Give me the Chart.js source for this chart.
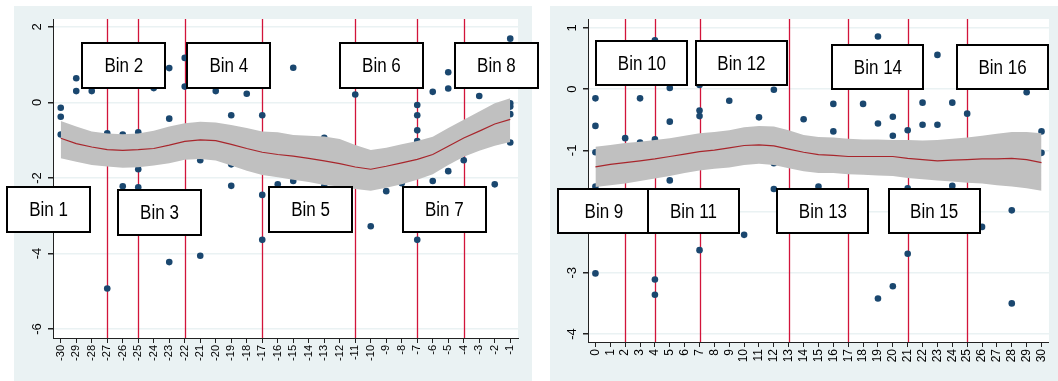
<!DOCTYPE html>
<html>
<head>
<meta charset="utf-8">
<script src="https://cdn.jsdelivr.net/npm/chart.js@4.4.0/dist/chart.umd.min.js"></script>
<style>
  html, body { margin: 0; padding: 0; background: #fff; }
  body { width: 1058px; height: 381px; position: relative; overflow: hidden; }
  .bg { position: absolute; background: #eaf2f3; }
  .wrap { position: absolute; top: 0; height: 381px; }
</style>
</head>
<body>
<div class="bg" style="left:14px;top:6px;width:518px;height:375px"></div>
<div class="bg" style="left:550px;top:6px;width:508px;height:375px"></div>
<div class="wrap" style="left:0;width:540px"><canvas id="left" width="540" height="381"></canvas></div>
<div class="wrap" style="left:545px;width:513px"><canvas id="right" width="513" height="381"></canvas></div>

<script>
// ---- left panel (days -30 .. -1) ----
const leftXTicks = [-30, -29, -28, -27, -26, -25, -24, -23, -22, -21, -20, -19, -18, -17, -16, -15, -14, -13, -12, -11, -10, -9, -8, -7, -6, -5, -4, -3, -2, -1];
const leftYTicks = [2, 0, -2, -4, -6];
const leftCutoffs = [-27, -25, -22, -17, -11, -7, -4];
const leftBins = ['Bin 1', 'Bin 2', 'Bin 3', 'Bin 4', 'Bin 5', 'Bin 6', 'Bin 7', 'Bin 8'];

const leftPtsX = [-30, -30, -30, -29, -29, -28, -27, -27, -26, -26, -25, -25, -25, -24, -23, -23, -23, -22, -22, -21, -21, -20,
  -19, -19, -19, -18, -17, -17, -17, -16, -15, -15, -13, -13, -11, -10, -9, -8, -7, -7, -7, -7, -7, -6, -6, -5, -5, -5,
  -4, -3, -2, -1, -1, -1, -1, -1];
const leftPtsY = [-0.14, -0.38, -0.85, 0.64, 0.30, 0.30, -0.82, -4.93, -0.85, -2.22, -0.79, -1.77, -2.25, 0.38, 0.91, -0.43, -4.23, 1.18, 0.42, -1.53, -4.06, 0.30,
  -0.34, -1.64, -2.21, 0.23, -0.34, -2.45, -3.64, -2.17, 0.92, -2.08, -0.94, -2.22, 0.21, -3.28, -2.35, -2.14, -0.07, -0.34, -0.74, -1.02, -3.64, 0.28, -2.08, 0.80, 0.37, -1.82,
  -1.53, 0.17, -2.17, 1.69, -0.02, -0.11, -0.31, -1.06];

const leftFit = [-0.95, -1.09, -1.18, -1.25, -1.27, -1.25, -1.22, -1.13, -1.03, -0.99, -1.01, -1.11, -1.22, -1.32, -1.38,
  -1.42, -1.48, -1.55, -1.62, -1.71, -1.77, -1.69, -1.60, -1.51, -1.38, -1.16, -0.94, -0.76, -0.57, -0.45];
const leftUpper = [-0.49, -0.64, -0.77, -0.82, -0.84, -0.82, -0.75, -0.64, -0.55, -0.51, -0.53, -0.60, -0.68, -0.77, -0.79,
  -0.86, -0.88, -0.90, -0.97, -1.13, -1.26, -1.20, -1.11, -1.02, -0.91, -0.68, -0.46, -0.24, -0.02, 0.11];
const leftLower = [-1.48, -1.57, -1.66, -1.70, -1.73, -1.72, -1.67, -1.61, -1.52, -1.50, -1.54, -1.67, -1.81, -1.92, -1.98,
  -2.05, -2.11, -2.19, -2.23, -2.29, -2.34, -2.26, -2.17, -2.05, -1.90, -1.66, -1.44, -1.28, -1.15, -1.05];

// ---- right panel (days 0 .. 30) ----
const rightXTicks = [0, 1, 2, 3, 4, 5, 6, 7, 8, 9, 10, 11, 12, 13, 14, 15, 16, 17, 18, 19, 20, 21, 22, 23, 24, 25, 26, 27, 28, 29, 30];
const rightYTicks = [1, 0, -1, -2, -3, -4];
const rightCutoffs = [2, 4, 7, 13, 17, 21, 25];
const rightBins = ['Bin 9', 'Bin 10', 'Bin 11', 'Bin 12', 'Bin 13', 'Bin 14', 'Bin 15', 'Bin 16'];

const rightPtsX = [0, 0, 0, 0, 0, 2, 3, 3, 4, 4, 4, 4, 5, 5, 5, 7, 7, 7, 7, 9, 10, 11, 12, 12, 12, 14, 15, 16, 16, 18,
  19, 19, 19, 20, 20, 20, 21, 21, 21, 22, 22, 23, 23, 24, 24, 25, 26, 28, 28, 29, 30, 30];
const rightPtsY = [-0.15, -0.60, -1.03, -1.59, -3.01, -0.80, -0.15, -0.87, 0.80, -0.82, -3.11, -3.36, 0.02, -0.53, -1.49, 0.07, -0.35, -0.44, -2.63, -0.19, -2.38, -0.46, -0.01, -1.21, -1.63, -0.49, -1.59, -0.24, -0.69, -0.24,
  0.86, -0.56, -3.42, -0.45, -0.76, -3.22, -0.67, -1.62, -2.69, -0.22, -0.58, 0.56, -0.58, -0.22, -1.58, -0.40, -2.25, -1.98, -3.50, -0.05, -0.69, -1.04];

const rightFit = [-1.27, -1.23, -1.20, -1.17, -1.14, -1.10, -1.06, -1.02, -0.995, -0.96, -0.92, -0.91, -0.925, -0.98, -1.03, -1.07,
  -1.08, -1.10, -1.10, -1.10, -1.10, -1.13, -1.15, -1.17, -1.16, -1.15, -1.14, -1.14, -1.13, -1.15, -1.20];
const rightUpper = [-0.94, -0.91, -0.88, -0.86, -0.83, -0.80, -0.76, -0.72, -0.70, -0.67, -0.62, -0.60, -0.61, -0.67, -0.75, -0.78,
  -0.79, -0.81, -0.82, -0.82, -0.83, -0.83, -0.84, -0.83, -0.81, -0.79, -0.76, -0.73, -0.70, -0.70, -0.72];
const rightLower = [-1.60, -1.57, -1.54, -1.50, -1.46, -1.42, -1.37, -1.33, -1.30, -1.28, -1.24, -1.22, -1.24, -1.29, -1.34, -1.37,
  -1.37, -1.39, -1.40, -1.41, -1.42, -1.45, -1.47, -1.49, -1.51, -1.53, -1.54, -1.57, -1.59, -1.62, -1.66];

const NAVY = '#1a476f';
const CUT_RED = '#d2143a';
const FIT_RED = '#a8262c';
const BAND = '#c0c0c0';
const FONT = '"Liberation Sans", Arial, sans-serif';

const xy = (xs, ys) => xs.map((x, i) => ({ x: x, y: ys[i] }));

// vertical cut-off lines, behind the data
const cutLines = {
  id: 'cutLines',
  beforeDatasetsDraw(chart, args, opts) {
    const { ctx, chartArea, scales } = chart;
    ctx.save();
    ctx.strokeStyle = CUT_RED;
    ctx.lineWidth = 1.3;
    opts.values.forEach(v => {
      const px = Math.round(scales.x.getPixelForValue(v)) + 0.5;
      ctx.beginPath();
      ctx.moveTo(px, chartArea.top);
      ctx.lineTo(px, chartArea.bottom);
      ctx.stroke();
    });
    ctx.restore();
  }
};

// white plot region
const plotBg = {
  id: 'plotBg',
  beforeDraw(chart) {
    const { ctx, chartArea: a } = chart;
    ctx.save();
    ctx.fillStyle = '#fff';
    ctx.fillRect(a.left, a.top, a.right - a.left, a.bottom - a.top);
    ctx.restore();
  }
};

// rotated y tick labels and the bin boxes
const extras = {
  id: 'extras',
  afterDraw(chart, args, opts) {
    const { ctx, chartArea, scales } = chart;
    ctx.save();
    ctx.fillStyle = '#000';
    ctx.font = '13px ' + FONT;
    ctx.textAlign = 'center';
    ctx.textBaseline = 'middle';
    opts.yTicks.forEach(v => {
      const py = scales.y.getPixelForValue(v);
      ctx.save();
      ctx.translate(chartArea.left - 15.5, py);
      ctx.rotate(-Math.PI / 2);
      ctx.fillText(String(v), 0, 0);
      ctx.restore();
    });

    opts.labels.forEach((t, i) => {
      const cx = scales.x.getPixelForValue(opts.at[i][0]);
      const cy = scales.y.getPixelForValue(opts.at[i][1]);
      const w = opts.boxW, h = opts.boxH;
      const x0 = Math.round(cx - w / 2), y0 = Math.round(cy - h / 2);
      ctx.fillStyle = '#fff';
      ctx.fillRect(x0, y0, w, h);
      ctx.strokeStyle = '#000';
      ctx.lineWidth = 2;
      ctx.strokeRect(x0, y0, w, h);
      ctx.save();
      ctx.translate(cx, cy + 1);
      ctx.scale(0.85, 1);
      ctx.fillStyle = '#000';
      ctx.font = '20px ' + FONT;
      ctx.fillText(t, 0, 0);
      ctx.restore();
    });
    ctx.restore();
  }
};

function makePanel(id, p) {
  return new Chart(document.getElementById(id), {
    type: 'line',
    data: {
      datasets: [
        { data: xy(p.xTicksFit, p.fit), borderColor: FIT_RED, borderWidth: 1.2, pointRadius: 0, fill: false, order: 0 },
        { data: xy(p.xTicksFit, p.upper), borderWidth: 0, pointRadius: 0, backgroundColor: BAND, fill: '+1', order: 1 },
        { data: xy(p.xTicksFit, p.lower), borderWidth: 0, pointRadius: 0, fill: false, order: 1 },
        { data: xy(p.ptsX, p.ptsY), showLine: false, pointRadius: 3.3, pointBackgroundColor: NAVY,
          pointBorderWidth: 0, order: 3 }
      ]
    },
    options: {
      responsive: false,
      animation: false,
      layout: { padding: { top: 19, right: p.padRight, left: 0, bottom: 0 } },
      plugins: {
        legend: { display: false },
        tooltip: { enabled: false },
        cutLines: { values: p.cutoffs },
        extras: { yTicks: p.yTicks, labels: p.bins, at: p.binAt, boxW: p.boxW, boxH: p.boxH }
      },
      scales: {
        x: {
          type: 'linear', min: p.xMin, max: p.xMax,
          afterBuildTicks: s => { s.ticks = p.xTicks.map(v => ({ value: v })); },
          afterFit: s => { s.height = p.xHeight; },
          border: { color: '#222', width: 1 },
          grid: { drawOnChartArea: false, tickColor: '#222', tickLength: 5 },
          ticks: { autoSkip: false, minRotation: 90, maxRotation: 90, padding: 2, color: '#000',
            font: { family: FONT, size: p.xFont } }
        },
        y: {
          min: p.yMin, max: p.yMax,
          afterBuildTicks: s => { s.ticks = p.yTicks.map(v => ({ value: v })); },
          afterFit: s => { s.width = p.yWidth; },
          border: { color: '#222', width: 1 },
          grid: { color: '#eaf2f3', lineWidth: 1.5, tickColor: '#222', tickLength: 5 },
          ticks: { display: false }
        }
      }
    },
    plugins: [plotBg, cutLines, extras]
  });
}

makePanel('left', {
  xTicksFit: leftXTicks, xTicks: leftXTicks, yTicks: leftYTicks,
  fit: leftFit, upper: leftUpper, lower: leftLower,
  ptsX: leftPtsX, ptsY: leftPtsY, cutoffs: leftCutoffs, bins: leftBins,
  binAt: [[-30.79, -2.84], [-25.93, 0.97], [-23.63, -2.91], [-19.16, 0.99], [-13.88, -2.84], [-9.31, 0.97], [-5.25, -2.84], [-1.89, 0.97]],
  boxW: 83, boxH: 45, xFont: 11,
  xMin: -30.5, xMax: -0.5, yMin: -6.24, yMax: 2.21,
  yWidth: 53, xHeight: 43, padRight: 22
});

makePanel('right', {
  xTicksFit: rightXTicks, xTicks: rightXTicks, yTicks: rightYTicks,
  fit: rightFit, upper: rightUpper, lower: rightLower,
  ptsX: rightPtsX, ptsY: rightPtsY, cutoffs: rightCutoffs, bins: rightBins,
  binAt: [[0.57, -1.995], [3.13, 0.42], [6.59, -1.995], [9.82, 0.42], [15.3, -1.995], [19.0, 0.36], [22.78, -1.995], [27.38, 0.36]],
  boxW: 91, boxH: 44, xFont: 12,
  xMin: -0.5, xMax: 30.5, yMin: -4.131, yMax: 1.147,
  yWidth: 43, xHeight: 39, padRight: 5
});
</script>
</body>
</html>
